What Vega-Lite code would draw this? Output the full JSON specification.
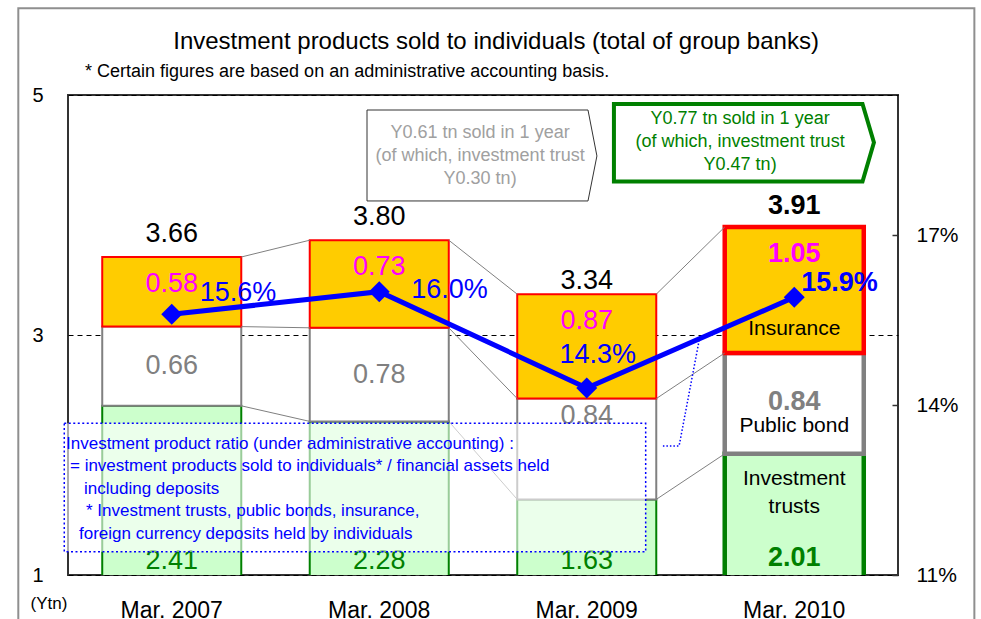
{
  "$schema": "https://vega.github.io/schema/vega-lite/v6.json",
  "width": 830,
  "height": 480,
  "autosize": {"type": "none"},
  "padding": {"left": 68, "top": 95, "right": 83, "bottom": 44},
  "background": "white",
  "config": {
    "font": "Liberation Sans",
    "text": {"font": "Liberation Sans"},
    "view": {"stroke": "#333333", "strokeWidth": 2}
  },
  "datasets": {
    "segments": [
      {"year": "Mar. 2007", "type": "Investment trusts", "order": 1, "value": 2.41},
      {"year": "Mar. 2007", "type": "Public bond", "order": 2, "value": 0.66},
      {"year": "Mar. 2007", "type": "Insurance", "order": 3, "value": 0.58},
      {"year": "Mar. 2008", "type": "Investment trusts", "order": 1, "value": 2.28},
      {"year": "Mar. 2008", "type": "Public bond", "order": 2, "value": 0.78},
      {"year": "Mar. 2008", "type": "Insurance", "order": 3, "value": 0.73},
      {"year": "Mar. 2009", "type": "Investment trusts", "order": 1, "value": 1.63},
      {"year": "Mar. 2009", "type": "Public bond", "order": 2, "value": 0.84},
      {"year": "Mar. 2009", "type": "Insurance", "order": 3, "value": 0.87},
      {"year": "Mar. 2010", "type": "Investment trusts", "order": 1, "value": 2.01},
      {"year": "Mar. 2010", "type": "Public bond", "order": 2, "value": 0.84},
      {"year": "Mar. 2010", "type": "Insurance", "order": 3, "value": 1.05}
    ],
    "summary": [
      {"year": "Mar. 2007", "total": 3.66, "ratio": 0.156},
      {"year": "Mar. 2008", "total": 3.80, "ratio": 0.160},
      {"year": "Mar. 2009", "total": 3.34, "ratio": 0.143},
      {"year": "Mar. 2010", "total": 3.91, "ratio": 0.159}
    ],
    "outlines": [
      {"shape": "gray", "k": 0, "x": 1.441, "y": 4.875},
      {"shape": "gray", "k": 1, "x": 2.506, "y": 4.875},
      {"shape": "gray", "k": 2, "x": 2.549, "y": 4.492},
      {"shape": "gray", "k": 3, "x": 2.506, "y": 4.117},
      {"shape": "gray", "k": 4, "x": 1.441, "y": 4.117},
      {"shape": "gray", "k": 5, "x": 1.441, "y": 4.875},
      {"shape": "green", "k": 0, "x": 2.631, "y": 4.925},
      {"shape": "green", "k": 1, "x": 3.829, "y": 4.925},
      {"shape": "green", "k": 2, "x": 3.884, "y": 4.604},
      {"shape": "green", "k": 3, "x": 3.829, "y": 4.279},
      {"shape": "green", "k": 4, "x": 2.631, "y": 4.279},
      {"shape": "green", "k": 5, "x": 2.631, "y": 4.925},
      {"shape": "pointer", "k": 0, "x": 2.867, "y": 2.075},
      {"shape": "pointer", "k": 1, "x": 2.945, "y": 2.075},
      {"shape": "pointer", "k": 2, "x": 3.041, "y": 2.95}
    ],
    "boxlines": [
      {"x": -0.0096, "y": 2.054, "line": "Investment product ratio (under administrative accounting) :"},
      {"x": 0.0096, "y": 1.867, "line": "= investment products sold to individuals* / financial assets held"},
      {"x": 0.0771, "y": 1.679, "line": "including deposits"},
      {"x": 0.0867, "y": 1.492, "line": "* Investment trusts, public bonds, insurance,"},
      {"x": 0.053, "y": 1.304, "line": "foreign currency deposits held by individuals"}
    ]
  },
  "resolve": {"scale": {"x": "independent", "y": "independent"}},
  "layer": [
    {
      "data": {"name": "segments"},
      "transform": [
        {"stack": "value", "groupby": ["year"], "sort": [{"field": "order"}], "as": ["v0", "v1"]},
        {"calculate": "(datum.v0 + datum.v1) / 2", "as": "mid"}
      ],
      "encoding": {
        "x": {
          "field": "year", "type": "nominal",
          "scale": {"paddingInner": 0.33, "paddingOuter": 0.165},
          "axis": {"title": null, "labelFontSize": 23, "labelColor": "black", "ticks": false, "domain": false, "labelPadding": 24, "labelAngle": 0}
        },
        "y": {
          "field": "v1", "type": "quantitative",
          "scale": {"domain": [1, 5], "zero": false, "nice": false},
          "axis": {
            "values": [1, 3, 5], "title": "(Ytn)", "titleAngle": 0, "titleX": -19.5, "titleY": 508,
            "titleAlign": "center", "titleBaseline": "middle", "titleFontSize": 17, "titleFontWeight": "normal", "titleColor": "black",
            "labelFontSize": 20, "labelColor": "black", "ticks": false, "domain": false, "labelPadding": 25,
            "grid": true, "gridColor": "black", "gridDash": [5, 4], "gridWidth": 1, "gridOpacity": 1
          }
        }
      },
      "layer": [
        {
          "mark": {"type": "bar", "clip": true},
          "encoding": {
            "y2": {"field": "v0"},
            "fill": {"field": "type", "type": "nominal", "legend": null,
              "scale": {"domain": ["Insurance", "Public bond", "Investment trusts"], "range": ["#FFCC00", "#FFFFFF", "#CCFFCC"]}},
            "stroke": {"field": "type", "type": "nominal", "legend": null,
              "scale": {"domain": ["Insurance", "Public bond", "Investment trusts"], "range": ["#FF0000", "#808080", "#008000"]}},
            "strokeWidth": {"condition": {"test": "datum.year === 'Mar. 2010'", "value": 4.5}, "value": 2}
          }
        },
        {
          "transform": [
            {"window": [{"op": "lead", "field": "v1", "as": "nv1"}, {"op": "lead", "field": "year", "as": "nyear"}],
             "groupby": ["type"], "sort": [{"field": "year", "order": "ascending"}]},
            {"filter": "datum.nyear != null"}
          ],
          "mark": {"type": "rule", "color": "#808080", "strokeWidth": 1},
          "encoding": {
            "x": {"field": "year", "type": "nominal", "bandPosition": 1},
            "x2": {"field": "nyear", "bandPosition": 0},
            "y2": {"field": "nv1"}
          }
        },
        {
          "transform": [{"filter": "datum.type === 'Insurance' && datum.year !== 'Mar. 2010'"}],
          "mark": {"type": "text", "fontSize": 27, "baseline": "middle", "align": "center", "dy": 27, "color": "#FF00FF"},
          "encoding": {"text": {"field": "value", "format": ".2f"}}
        },
        {
          "transform": [{"filter": "datum.type === 'Insurance' && datum.year === 'Mar. 2010'"}],
          "mark": {"type": "text", "fontSize": 27, "fontWeight": "bold", "baseline": "middle", "align": "center", "dy": 27, "color": "#FF00FF"},
          "encoding": {"text": {"field": "value", "format": ".2f"}}
        },
        {
          "transform": [{"filter": "datum.type === 'Public bond' && datum.year !== 'Mar. 2009' && datum.year !== 'Mar. 2010'"}],
          "mark": {"type": "text", "fontSize": 27, "baseline": "middle", "align": "center", "color": "#808080"},
          "encoding": {"y": {"field": "mid", "type": "quantitative"}, "text": {"field": "value", "format": ".2f"}}
        },
        {
          "transform": [{"filter": "datum.type === 'Public bond' && datum.year === 'Mar. 2009'"}],
          "mark": {"type": "text", "fontSize": 27, "baseline": "middle", "align": "center", "dy": 17, "color": "#808080"},
          "encoding": {"text": {"field": "value", "format": ".2f"}}
        },
        {
          "transform": [{"filter": "datum.type === 'Public bond' && datum.year === 'Mar. 2010'"}],
          "mark": {"type": "text", "fontSize": 27, "fontWeight": "bold", "baseline": "middle", "align": "center", "dy": -1, "color": "#808080"},
          "encoding": {"y": {"field": "mid", "type": "quantitative"}, "text": {"field": "value", "format": ".2f"}}
        },
        {
          "transform": [{"filter": "datum.type === 'Investment trusts' && datum.year !== 'Mar. 2010'"}],
          "mark": {"type": "text", "fontSize": 27, "baseline": "middle", "align": "center", "dy": -14, "color": "#008000"},
          "encoding": {"y": {"datum": 1}, "text": {"field": "value", "format": ".2f"}}
        },
        {
          "transform": [{"filter": "datum.type === 'Investment trusts' && datum.year === 'Mar. 2010'"}],
          "mark": {"type": "text", "fontSize": 27, "fontWeight": "bold", "baseline": "middle", "align": "center", "dy": -17, "color": "#008000"},
          "encoding": {"y": {"datum": 1}, "text": {"field": "value", "format": ".2f"}}
        },
        {
          "transform": [{"filter": "datum.year === 'Mar. 2010' && datum.type === 'Insurance'"}],
          "mark": {"type": "text", "fontSize": 21, "baseline": "middle", "align": "center", "dy": -24, "color": "black"},
          "encoding": {"y": {"field": "v0", "type": "quantitative"}, "text": {"field": "type"}}
        },
        {
          "transform": [{"filter": "datum.year === 'Mar. 2010' && datum.type === 'Public bond'"}],
          "mark": {"type": "text", "fontSize": 21, "baseline": "middle", "align": "center", "dy": -28, "color": "black"},
          "encoding": {"y": {"field": "v0", "type": "quantitative"}, "text": {"field": "type"}}
        },
        {
          "transform": [{"filter": "datum.year === 'Mar. 2010' && datum.type === 'Investment trusts'"}],
          "mark": {"type": "text", "fontSize": 21, "baseline": "top", "align": "center", "dy": 14, "lineBreak": " ", "lineHeight": 28, "color": "black"},
          "encoding": {"text": {"field": "type"}}
        }
      ]
    },
    {
      "data": {"name": "summary"},
      "encoding": {
        "x": {"field": "year", "type": "nominal", "scale": {"paddingInner": 0.33, "paddingOuter": 0.165}, "axis": null},
        "y": {"field": "total", "type": "quantitative", "scale": {"domain": [1, 5], "zero": false, "nice": false}, "axis": null},
        "text": {"field": "total", "format": ".2f"}
      },
      "layer": [
        {
          "transform": [{"filter": "datum.year === 'Mar. 2007' || datum.year === 'Mar. 2008'"}],
          "mark": {"type": "text", "fontSize": 27, "baseline": "middle", "align": "center", "dy": -22, "color": "black"}
        },
        {
          "transform": [{"filter": "datum.year === 'Mar. 2009'"}],
          "mark": {"type": "text", "fontSize": 27, "baseline": "middle", "align": "center", "dy": -13, "color": "black"}
        },
        {
          "transform": [{"filter": "datum.year === 'Mar. 2010'"}],
          "mark": {"type": "text", "fontSize": 27, "fontWeight": "bold", "baseline": "middle", "align": "center", "dy": -20, "color": "black"}
        }
      ]
    },
    {
      "data": {"name": "summary"},
      "encoding": {
        "x": {"field": "year", "type": "nominal", "scale": {"paddingInner": 0.33, "paddingOuter": 0.165}, "axis": null},
        "y": {
          "field": "ratio", "type": "quantitative",
          "scale": {"domain": [0.11, 0.194706], "zero": false, "nice": false},
          "axis": {"orient": "right", "values": [0.11, 0.14, 0.17], "format": ".0%", "title": null, "domain": false,
                   "ticks": true, "tickSize": -6, "tickColor": "#333333", "tickWidth": 1.5,
                   "labelFontSize": 21, "labelColor": "black", "labelPadding": 24, "grid": false}
        },
        "text": {"field": "ratio", "format": ".1%"}
      },
      "layer": [
        {"mark": {"type": "line", "color": "#0000FF", "strokeWidth": 5}},
        {"mark": {"type": "point", "shape": "diamond", "filled": true, "size": 441, "color": "#0000FF", "opacity": 1}},
        {
          "transform": [{"filter": "datum.year === 'Mar. 2007'"}],
          "mark": {"type": "text", "fontSize": 27, "align": "left", "baseline": "middle", "dx": 28, "dy": -21, "color": "#0000FF"}
        },
        {
          "transform": [{"filter": "datum.year === 'Mar. 2008'"}],
          "mark": {"type": "text", "fontSize": 27, "align": "left", "baseline": "middle", "dx": 32, "dy": -2, "color": "#0000FF"}
        },
        {
          "transform": [{"filter": "datum.year === 'Mar. 2009'"}],
          "mark": {"type": "text", "fontSize": 27, "align": "center", "baseline": "middle", "dx": 11, "dy": -33, "color": "#0000FF"}
        },
        {
          "transform": [{"filter": "datum.year === 'Mar. 2010'"}],
          "mark": {"type": "text", "fontSize": 27, "fontWeight": "bold", "align": "left", "baseline": "middle", "dx": 7, "dy": -14, "color": "#0000FF"}
        }
      ]
    },
    {
      "encoding": {
        "x": {"field": "x", "type": "quantitative", "scale": {"domain": [0, 4], "zero": false, "nice": false}, "axis": null},
        "y": {"field": "y", "type": "quantitative", "scale": {"domain": [1, 5], "zero": false, "nice": false}, "axis": null}
      },
      "layer": [
        {
          "data": {"values": [{"x": -0.2395, "y": 5.7225, "x2": 4.368, "y2": 0.45}]},
          "mark": {"type": "rect", "fillOpacity": 0, "stroke": "#8f8f8f", "strokeWidth": 2},
          "encoding": {"x2": {"field": "x2"}, "y2": {"field": "y2"}}
        },
        {
          "data": {"values": [{"x": 2.063, "y": 5.383, "note": "Investment products sold to individuals (total of group banks)"}]},
          "mark": {"type": "text", "fontSize": 24, "align": "center", "baseline": "alphabetic", "color": "black"},
          "encoding": {"text": {"field": "note"}}
        },
        {
          "data": {"values": [{"x": 0.0819, "y": 5.1475, "note": "* Certain figures are based on an administrative accounting basis."}]},
          "mark": {"type": "text", "fontSize": 18, "align": "left", "baseline": "alphabetic", "color": "black"},
          "encoding": {"text": {"field": "note"}}
        },
        {
          "data": {"values": [{"x": -0.018, "y": 2.264, "x2": 2.784, "y2": 1.194}]},
          "mark": {"type": "rect", "fill": "white", "fillOpacity": 0.6, "stroke": "#0000FF", "strokeWidth": 1.5, "strokeDash": [2, 2.5]},
          "encoding": {"x2": {"field": "x2"}, "y2": {"field": "y2"}}
        },
        {
          "data": {"name": "boxlines"},
          "mark": {"type": "text", "fontSize": 17, "align": "left", "baseline": "alphabetic", "color": "#0000FF"},
          "encoding": {"text": {"field": "line"}}
        },
        {
          "data": {"name": "outlines"},
          "transform": [{"filter": "datum.shape === 'gray'"}],
          "mark": {"type": "line", "color": "#333333", "strokeWidth": 1},
          "encoding": {"order": {"field": "k"}}
        },
        {
          "data": {"name": "outlines"},
          "transform": [{"filter": "datum.shape === 'green'"}],
          "mark": {"type": "line", "color": "#008000", "strokeWidth": 4, "strokeCap": "square", "strokeJoin": "miter"},
          "encoding": {"order": {"field": "k"}}
        },
        {
          "data": {"name": "outlines"},
          "transform": [{"filter": "datum.shape === 'pointer'"}],
          "mark": {"type": "line", "color": "#0000FF", "strokeWidth": 1.5, "strokeDash": [1.5, 2]},
          "encoding": {"order": {"field": "k"}}
        },
        {
          "data": {"values": [{"x": 1.986, "y": 4.761, "note": "Y0.61 tn sold in 1 year\n(of which, investment trust\nY0.30 tn)"}]},
          "mark": {"type": "text", "fontSize": 18, "align": "center", "baseline": "top", "lineBreak": "\n", "lineHeight": 23, "color": "#a0a0a0"},
          "encoding": {"text": {"field": "note"}}
        },
        {
          "data": {"values": [{"x": 3.239, "y": 4.8725, "note": "Y0.77 tn sold in 1 year\n(of which, investment trust\nY0.47 tn)"}]},
          "mark": {"type": "text", "fontSize": 18, "align": "center", "baseline": "top", "lineBreak": "\n", "lineHeight": 23, "color": "#008000"},
          "encoding": {"text": {"field": "note"}}
        }
      ]
    }
  ]
}
